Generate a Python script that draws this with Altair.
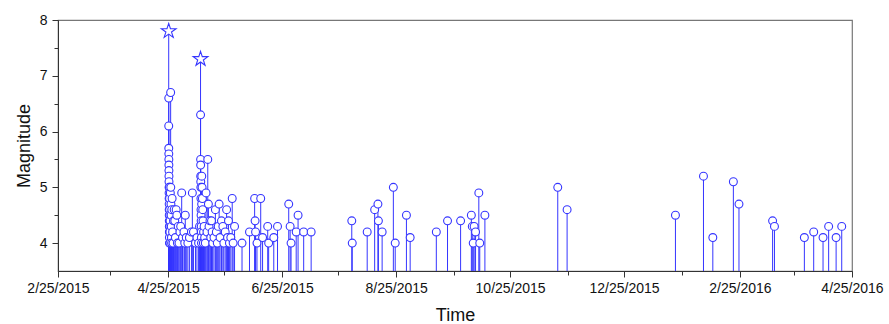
import altair as alt
import pandas as pd

# ---- data ----
times = [
    "2015-04-25T06:11", "2015-04-25T06:45", "2015-04-25T06:30", "2015-04-25T07:00", "2015-04-25T07:30",
    "2015-04-25T08:00", "2015-04-25T08:30", "2015-04-25T09:00", "2015-04-25T09:30", "2015-04-25T10:00",
    "2015-04-25T10:30", "2015-04-25T11:00", "2015-04-25T11:30", "2015-04-25T12:00", "2015-04-25T12:30",
    "2015-04-25T13:00", "2015-04-25T13:30", "2015-04-25T14:00", "2015-04-25T14:30", "2015-04-25T15:00",
    "2015-04-25T15:30", "2015-04-25T16:00", "2015-04-25T17:00", "2015-04-25T18:00", "2015-04-25T19:00",
    "2015-04-25T20:00", "2015-04-25T21:00", "2015-04-25T22:00", "2015-04-25T23:00",
    "2015-04-26T03:00", "2015-04-26T07:09", "2015-04-26T09:00", "2015-04-26T11:00", "2015-04-26T13:00",
    "2015-04-26T15:00", "2015-04-26T17:00", "2015-04-26T19:00", "2015-04-26T21:00",
    "2015-04-27T02:00", "2015-04-27T08:00", "2015-04-27T14:00", "2015-04-27T20:00",
    "2015-04-28T04:00", "2015-04-28T12:00", "2015-04-28T20:00",
    "2015-04-29T06:00", "2015-04-29T14:00", "2015-04-29T22:00",
    "2015-04-30T08:00", "2015-04-30T18:00",
    "2015-05-01T06:00", "2015-05-01T16:00",
    "2015-05-02T05:00", "2015-05-02T15:00",
    "2015-05-03T10:00", "2015-05-03T20:00",
    "2015-05-04T03:00", "2015-05-04T16:00",
    "2015-05-05T12:00",
    "2015-05-06T08:00",
    "2015-05-07T10:00", "2015-05-07T22:00",
    "2015-05-08T12:00",
    "2015-05-09T14:00",
    "2015-05-10T09:00",
    "2015-05-11T06:00", "2015-05-11T18:00",
    "2015-05-12T07:05", "2015-05-12T07:30", "2015-05-12T08:00", "2015-05-12T08:30", "2015-05-12T09:00",
    "2015-05-12T10:00", "2015-05-12T11:00", "2015-05-12T12:00", "2015-05-12T13:00", "2015-05-12T14:00",
    "2015-05-12T15:00", "2015-05-12T16:00", "2015-05-12T17:00", "2015-05-12T18:00", "2015-05-12T19:00",
    "2015-05-12T21:00", "2015-05-12T23:00",
    "2015-05-13T03:00", "2015-05-13T07:00", "2015-05-13T11:00", "2015-05-13T15:00", "2015-05-13T19:00",
    "2015-05-13T22:00",
    "2015-05-14T05:00", "2015-05-14T12:00", "2015-05-14T20:00",
    "2015-05-15T06:00", "2015-05-15T18:00",
    "2015-05-16T04:00", "2015-05-16T12:00", "2015-05-16T20:00",
    "2015-05-17T08:00", "2015-05-17T18:00",
    "2015-05-18T04:00", "2015-05-18T12:00", "2015-05-18T20:00",
    "2015-05-19T12:00",
    "2015-05-20T06:00", "2015-05-20T18:00",
    "2015-05-21T06:00", "2015-05-21T18:00",
    "2015-05-22T06:00", "2015-05-22T18:00",
    "2015-05-23T12:00",
    "2015-05-24T06:00", "2015-05-24T18:00",
    "2015-05-25T12:00",
    "2015-05-26T06:00", "2015-05-26T18:00",
    "2015-05-27T06:00", "2015-05-27T18:00",
    "2015-05-28T12:00",
    "2015-05-29T06:00", "2015-05-29T18:00",
    "2015-05-30T12:00",
    "2015-06-03T12:00", "2015-06-07T12:00",
    "2015-06-10T06:00", "2015-06-10T12:00", "2015-06-10T18:00",
    "2015-06-11T12:00", "2015-06-13T12:00", "2015-06-14T12:00",
    "2015-06-17T06:00", "2015-06-17T18:00",
    "2015-06-20T12:00", "2015-06-22T12:00", "2015-06-28T12:00",
    "2015-06-29T06:00", "2015-06-29T18:00",
    "2015-07-02T12:00", "2015-07-03T12:00", "2015-07-06T12:00", "2015-07-10T12:00",
    "2015-08-01T06:00", "2015-08-01T12:00",
    "2015-08-09T12:00", "2015-08-13T12:00", "2015-08-15T06:00", "2015-08-15T12:00", "2015-08-17T12:00",
    "2015-08-23T12:00", "2015-08-24T12:00", "2015-08-30T12:00", "2015-09-01T12:00",
    "2015-09-15T12:00", "2015-09-21T12:00", "2015-09-28T12:00",
    "2015-10-04T06:00", "2015-10-04T18:00", "2015-10-05T06:00", "2015-10-05T18:00", "2015-10-06T12:00",
    "2015-10-08T06:00", "2015-10-08T18:00", "2015-10-11T12:00",
    "2015-11-19T12:00", "2015-11-24T12:00",
    "2016-01-21T12:00", "2016-02-05T12:00", "2016-02-10T12:00", "2016-02-21T12:00", "2016-02-24T12:00",
    "2016-03-13T12:00", "2016-03-14T12:00", "2016-03-30T12:00", "2016-04-04T12:00", "2016-04-09T12:00",
    "2016-04-12T12:00", "2016-04-16T12:00", "2016-04-19T12:00",
]
mags = [
    7.8, 6.6, 6.1, 5.7, 5.6,
    5.5, 5.4, 5.3, 5.2, 5.1,
    5.0, 4.9, 4.8, 4.7, 4.6,
    4.5, 4.4, 4.3, 4.2, 4.1,
    4.0, 5.0, 4.8, 4.6, 4.5,
    4.3, 4.2, 4.0, 4.4,
    4.9, 6.7, 5.0, 4.7, 4.5,
    4.3, 4.1, 4.0, 4.6,
    4.8, 4.2, 4.0, 4.4,
    4.6, 4.4, 4.1,
    4.6, 4.5, 4.0,
    4.3, 4.0,
    4.2, 4.3,
    4.9, 4.1,
    4.2, 4.0,
    4.5, 4.1,
    4.0,
    4.1,
    4.2, 4.9,
    4.2,
    4.0,
    4.1,
    4.0, 4.3,
    7.3, 6.3, 5.5, 5.4, 5.2,
    5.1, 5.0, 4.8, 4.6, 4.5,
    4.4, 4.3, 4.2, 4.1, 4.0,
    4.7, 5.2,
    5.0, 4.8, 4.6, 4.4, 4.0,
    4.2,
    4.3, 4.1, 4.0,
    4.9, 4.2,
    5.5, 4.7, 4.3,
    4.4, 4.1,
    4.4, 4.2, 4.0,
    4.1,
    4.6, 4.2,
    4.0, 4.3,
    4.7, 4.1,
    4.4,
    4.3, 4.0,
    4.2,
    4.6, 4.1,
    4.4, 4.0,
    4.1,
    4.8, 4.0,
    4.3,
    4.0, 4.2,
    4.8, 4.4, 4.2,
    4.0, 4.8, 4.1,
    4.3, 4.0,
    4.1, 4.3, 4.7,
    4.3, 4.0,
    4.2, 4.5, 4.2, 4.2,
    4.4, 4.0,
    4.2, 4.6, 4.7, 4.4, 4.2,
    5.0, 4.0, 4.5, 4.1,
    4.2, 4.4, 4.4,
    4.5, 4.3, 4.0, 4.3, 4.2,
    4.9, 4.0, 4.5,
    5.0, 4.6,
    4.5, 5.2, 4.1, 5.1, 4.7,
    4.4, 4.3, 4.1, 4.2, 4.1,
    4.3, 4.1, 4.3,
]

major_x_ticks = ["2015-02-25", "2015-04-25", "2015-06-25", "2015-08-25",
                 "2015-10-25", "2015-12-25", "2016-02-25", "2016-04-25"]
minor_x_ticks = ["2015-03-25", "2015-05-25", "2015-07-25", "2015-09-25",
                 "2015-11-25", "2016-01-25", "2016-03-25"]
major_y_ticks = [4, 5, 6, 7, 8]
minor_y_ticks = [4.5, 5.5, 6.5, 7.5]
y_range = [3.5, 8]
baseline = 3.5


def dt(s):
    y, m, d = (int(p) for p in s.split("-"))
    return alt.DateTime(year=y, month=m, date=d)


df = pd.DataFrame({"date": times, "mag": mags})
df["base"] = baseline

BLUE = "#3535ff"
FONT = "Liberation Sans"

xscale = alt.Scale(domain=[dt(major_x_ticks[0]), dt(major_x_ticks[-1])])
yscale = alt.Scale(domain=y_range, nice=False, zero=False)

major_x_axis = alt.Axis(values=[dt(s) for s in major_x_ticks], format="%-m/%-d/%Y",
                        title="Time", grid=False, tickSize=6, labelFlush=False,
                        labelOverlap=False, labelPadding=4, titlePadding=11,
                        orient="bottom")
major_y_axis = alt.Axis(values=major_y_ticks, title="Magnitude", grid=False, tickSize=6,
                        labelPadding=5, titlePadding=6, orient="left", labelFlush=False)
minor_x_axis = alt.Axis(values=[dt(s) for s in minor_x_ticks], labels=False, title=None,
                        grid=False, tickSize=4, domain=False, orient="bottom")
minor_y_axis = alt.Axis(values=minor_y_ticks, labels=False, title=None, grid=False,
                        tickSize=4, domain=False, orient="left")

stems = alt.Chart(df).mark_rule(color=BLUE, strokeWidth=1).encode(
    x=alt.X("date:T", scale=xscale, axis=major_x_axis),
    y=alt.Y("mag:Q", scale=yscale, axis=major_y_axis),
    y2="base:Q",
)

minor = alt.Chart(df).mark_point(opacity=0).encode(
    x=alt.X("date:T", scale=xscale, axis=minor_x_axis),
    y=alt.Y("mag:Q", scale=yscale, axis=minor_y_axis),
)

circles = alt.Chart(df).transform_filter("datum.mag < 7").mark_point(
    shape="circle", size=62, filled=True, fill="white", stroke=BLUE,
    strokeWidth=1.1, opacity=1, fillOpacity=1,
).encode(
    x=alt.X("date:T", scale=xscale, axis=None),
    y=alt.Y("mag:Q", scale=yscale, axis=None),
)

STAR = ("M0,-1L0.2245,-0.309L0.9511,-0.309L0.3633,0.118L0.5878,0.809L0,0.382"
        "L-0.5878,0.809L-0.3633,0.118L-0.9511,-0.309L-0.2245,-0.309Z")
stars = alt.Chart(df).transform_filter("datum.mag >= 7").mark_point(
    shape=STAR, size=240, filled=True, fill="white", stroke=BLUE,
    strokeWidth=1.1, opacity=1, fillOpacity=1,
).encode(
    x=alt.X("date:T", scale=xscale, axis=None),
    y=alt.Y("mag:Q", scale=yscale, axis=None),
)

chart = alt.layer(stems, minor, circles, stars).resolve_axis(
    x="independent", y="independent"
).properties(
    width=794, height=251,
    autosize=alt.AutoSizeParams(type="none"),
    padding={"left": 58, "top": 20, "right": 37, "bottom": 53},
).configure_view(
    stroke="#777777", strokeWidth=1.2,
).configure_axis(
    labelFont=FONT, titleFont=FONT, labelFontSize=14, titleFontSize=18,
    titleFontWeight="normal", labelColor="#111111", titleColor="#111111",
    domainColor="#333333", tickColor="#333333", domainWidth=1, tickWidth=1,
)

chart.save("out.html", embed_options={"renderer": "svg", "actions": False})
